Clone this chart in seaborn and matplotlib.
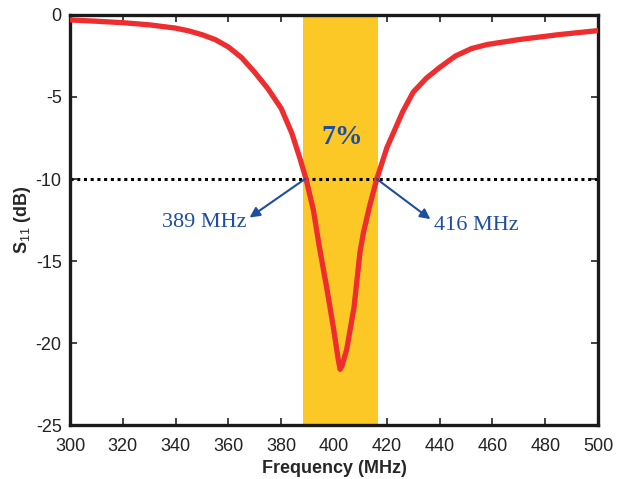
import numpy as np
import pandas as pd
import matplotlib
matplotlib.use("Agg")
import matplotlib.pyplot as plt
import seaborn as sns

freq = [300, 310, 320, 330, 340, 345, 350, 355, 360, 365, 370, 375, 380, 384, 387,
        389.4, 392.2, 394.4, 397.2, 399.7, 401.6, 402.3, 403, 404.8, 407.6, 409.8,
        411.1, 413.4, 416.2, 420, 423, 426, 430, 435, 440, 446, 452, 458, 470, 485, 500]
s11 = [-0.3, -0.38, -0.47, -0.6, -0.8, -0.97, -1.2, -1.5, -1.95, -2.6, -3.5, -4.5,
       -5.7, -7.2, -8.7, -10.0, -11.9, -14.1, -16.6, -19.0, -21.0, -21.6, -21.4, -20.4,
       -17.8, -14.5, -13.3, -11.7, -10.0, -8.1, -7.0, -5.9, -4.7, -3.85, -3.2, -2.5,
       -2.05, -1.8, -1.5, -1.2, -0.95]
band = [388.2, 416.7]
threshold = -10
xticks = [300, 320, 340, 360, 380, 400, 420, 440, 460, 480, 500]
yticks = [0, -5, -10, -15, -20, -25]
band_label = "7%"
f_low_label = "389 MHz"
f_high_label = "416 MHz"
f_low, f_high = 389, 416.2

df = pd.DataFrame({"Frequency": freq, "S11": s11})

sns.set_style("ticks")
plt.rcParams["font.family"] = ["Liberation Sans", "DejaVu Sans"]
plt.rcParams["mathtext.fontset"] = "custom"
plt.rcParams["mathtext.rm"] = "Liberation Sans"
plt.rcParams["mathtext.bf"] = "Liberation Sans:bold"
plt.rcParams["axes.unicode_minus"] = False

fig = plt.figure(figsize=(6.24, 4.79), dpi=100)
ax = fig.add_axes([0.1122, 0.1127, 0.8462, 0.856])

ax.axvspan(band[0], band[1], color="#fcc826", lw=0, zorder=1)
ax.axhline(threshold, color="black", ls=(0, (1, 1.2)), lw=2.2, zorder=2)
sns.lineplot(data=df, x="Frequency", y="S11", ax=ax, color="#ee2d2f", lw=3.8,
             zorder=3, solid_joinstyle="round", solid_capstyle="round")

blue = "#1f4e9e"
ax.text(403, -7.5, band_label, ha="center", va="center", fontsize=20, fontweight="bold",
        color=blue, family="Liberation Serif", zorder=4)
ax.annotate("", xy=(368, -12.35), xytext=(f_low, threshold),
            arrowprops=dict(arrowstyle="-|>", color=blue, lw=1.5, mutation_scale=15,
                            shrinkA=0, shrinkB=0), zorder=4)
ax.annotate("", xy=(436.5, -12.45), xytext=(f_high, threshold),
            arrowprops=dict(arrowstyle="-|>", color=blue, lw=1.5, mutation_scale=15,
                            shrinkA=0, shrinkB=0), zorder=4)
ax.text(351, -12.65, f_low_label, ha="center", va="center", fontsize=16,
        color=blue, family="Liberation Serif", zorder=4)
ax.text(454, -12.85, f_high_label, ha="center", va="center", fontsize=16,
        color=blue, family="Liberation Serif", zorder=4)

ax.set_xlim(300, 500)
ax.set_ylim(-25, 0)
ax.set_xticks(xticks)
ax.set_yticks(yticks)
ax.tick_params(direction="in", length=5, width=1.2, top=True, right=True,
               labelsize=13, colors="#222222", pad=6)
ax.tick_params(axis="x", pad=9)
for s in ax.spines.values():
    s.set_linewidth(2.4)
    s.set_color("#1a1a1a")
    s.set_visible(True)
ax.set_xlabel("Frequency (MHz)", fontsize=13, fontweight="bold", labelpad=4)
ax.set_ylabel(r"S$_{\mathrm{11}}$ (dB)", fontsize=13, fontweight="bold", labelpad=2)

fig.savefig("out.png", dpi=100)
